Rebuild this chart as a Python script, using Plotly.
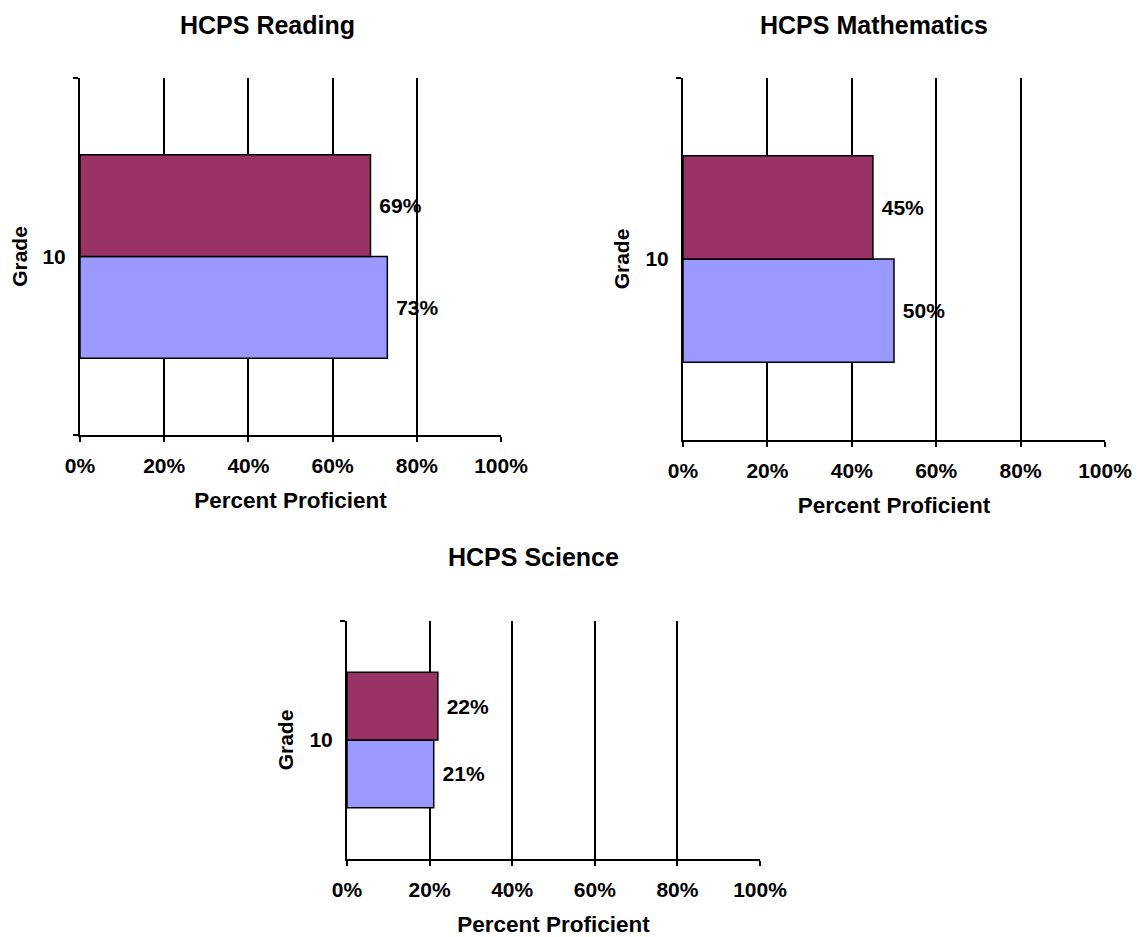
import plotly.graph_objects as go

# ---- data ----
grades = ["10"]
subjects = ["HCPS Reading", "HCPS Mathematics", "HCPS Science"]
series1_name = "Series 1"
series2_name = "Series 2"
reading_s1 = [73]
reading_s2 = [69]
math_s1 = [50]
math_s2 = [45]
science_s1 = [21]
science_s2 = [22]
x_ticks = [0, 20, 40, 60, 80, 100]
x_tick_labels = ["0%", "20%", "40%", "60%", "80%", "100%"]

# ---- style ----
OFF = 8                      # page body margin of the html page
W, H = 1140 - OFF, 937 - OFF  # figure size that fits the window
FONT = "Liberation Sans, Arial, sans-serif"
C1 = "#9999FF"
C2 = "#993366"


def px_x(p):
    return (p - OFF) / W


def px_y(p):
    return 1 - (p - OFF) / H


panels = [
    # (s1, s2, xdomain, ydomain, title center x, title center y)
    (reading_s1, reading_s2, [px_x(80), px_x(501)], [px_y(435), px_y(78)], px_x(267), px_y(25)),
    (math_s1, math_s2, [px_x(683), px_x(1105)], [px_y(440), px_y(78)], px_x(874), px_y(25)),
    (science_s1, science_s2, [px_x(347), px_x(760)], [px_y(859), px_y(621)], px_x(533), px_y(557)),
]

fig = go.Figure()
annotations = []
for i, (s1, s2, xd, yd, tx, ty) in enumerate(panels):
    suf = "" if i == 0 else str(i + 1)
    for vals, name, col in ((s1, series1_name, C1), (s2, series2_name, C2)):
        fig.add_trace(go.Bar(
            x=vals, y=grades, orientation="h", name=name,
            marker=dict(color=col, line=dict(color="black", width=1.5)),
            texttemplate=" %{x}%", textposition="outside", cliponaxis=False,
            textfont=dict(family=FONT, size=21, color="black", weight="bold"),
            xaxis="x" + suf, yaxis="y" + suf, showlegend=False,
        ))
    fig.layout["xaxis" + suf] = dict(
        domain=xd, anchor="y" + suf, range=[0, 100], automargin=False,
        tickvals=x_ticks, ticktext=x_tick_labels,
        showgrid=True, gridcolor="black", gridwidth=2,
        showline=True, linecolor="black", linewidth=2,
        ticks="outside", ticklen=5, tickwidth=2, tickcolor="black",
        zeroline=False, ticklabelstandoff=6,
        tickfont=dict(family=FONT, size=21, color="black", weight="bold"),
        title=dict(text="Percent Proficient", standoff=16,
                   font=dict(family=FONT, size=22.5, color="black", weight="bold")),
    )
    fig.layout["yaxis" + suf] = dict(
        domain=yd, anchor="x" + suf, type="category", automargin=False,
        tickson="boundaries", ticks="outside", ticklen=5, tickwidth=2, tickcolor="black",
        showgrid=False, showline=True, linecolor="black", linewidth=2, zeroline=False,
        ticklabelstandoff=8,
        tickfont=dict(family=FONT, size=21, color="black", weight="bold"),
        title=dict(text="Grade", standoff=10,
                   font=dict(family=FONT, size=21, color="black", weight="bold")),
    )
    annotations.append(dict(
        text=subjects[i], x=tx, y=ty, xref="paper", yref="paper",
        xanchor="center", yanchor="middle", showarrow=False,
        font=dict(family=FONT, size=25, color="black", weight="bold"),
    ))

fig.update_layout(
    width=W, height=H, barmode="group", bargap=0.43,
    margin=dict(l=0, r=0, t=0, b=0),
    paper_bgcolor="white", plot_bgcolor="white",
    annotations=annotations, showlegend=False,
)
fig.write_html("out.html")
